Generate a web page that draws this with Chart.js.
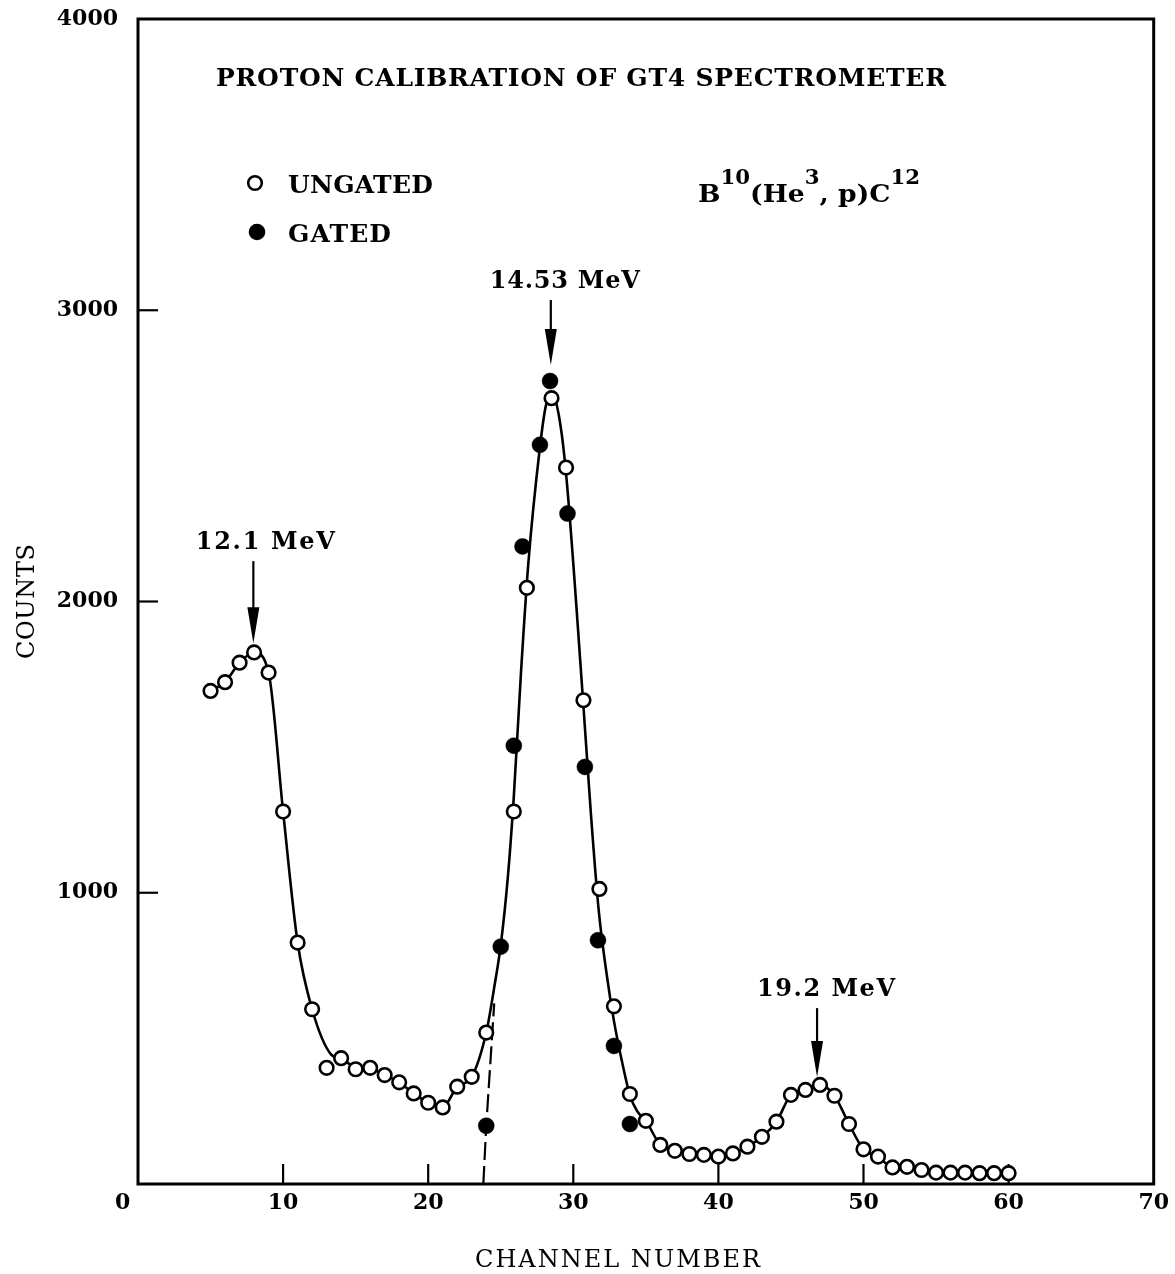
<!DOCTYPE html>
<html>
<head>
<meta charset="utf-8">
<title>Proton calibration of GT4 spectrometer</title>
<script src="https://cdn.jsdelivr.net/npm/chart.js@4.4.1/dist/chart.umd.min.js"></script>
<style>
  html, body { margin: 0; padding: 0; background: #fff; }
  #wrap { width: 1175px; height: 1274px; }
  canvas { display: block; }
</style>
</head>
<body>
<div id="wrap"><canvas id="spectrum" width="1175" height="1274"></canvas></div>
<script>
// Axis tick values
const channelTicks = [0, 10, 20, 30, 40, 50, 60, 70];
const countTicks = [0, 1000, 2000, 3000, 4000];

// Ungated spectrum (channel, counts)
const ungatedChannels = [
  5, 6, 7, 8, 9, 10, 11, 12, 13, 14, 15, 16, 17, 18, 19, 20, 21, 22, 23, 24,
  25.9, 26.8, 28.5, 29.5, 30.7, 31.8, 32.8, 33.9,
  35, 36, 37, 38, 39, 40, 41, 42, 43, 44, 45, 46, 47, 48, 49, 50,
  51, 52, 53, 54, 55, 56, 57, 58, 59, 60
];
const ungatedCounts = [
  1693, 1723, 1790, 1825, 1756, 1279, 829, 600, 399, 432, 394, 399, 374, 349, 311, 279, 263, 334, 368, 520,
  1279, 2047, 2698, 2460, 1661, 1013, 610, 309,
  217, 134, 114, 103, 100, 94, 105, 128, 162, 214, 306, 323, 340, 303, 206, 119,
  94, 57, 59, 48, 39, 39, 39, 37, 37, 37
];

// Gated spectrum (channel, counts)
const gatedChannels = [24.0, 25.0, 25.9, 26.5, 27.7, 28.4, 29.6, 30.8, 31.7, 32.8, 33.9];
const gatedCounts   = [200, 815, 1505, 2189, 2538, 2757, 2302, 1432, 837, 474, 206];

// Hand-fitted solid curve through the spectrum
const fitChannels = [
  5, 6, 7, 8, 9, 10, 11, 12, 13.3, 14.1, 15, 16, 17, 18, 19, 20, 21, 22, 23, 24,
  24.6, 25, 25.5, 25.9, 26.4, 26.9, 27.7, 28.1, 28.5, 29, 29.5, 30.7, 31.2, 31.75,
  32.3, 32.8, 33.4, 33.9, 34.4,
  35, 36, 37, 38, 39, 40, 41, 42, 43, 44, 45, 46, 47, 48, 49, 50,
  51, 52, 53, 54, 55, 56, 57, 58, 59, 60
];
const fitCounts = [
  1693, 1723, 1790, 1825, 1756, 1279, 829, 600, 445, 428, 400, 396, 374, 349, 311, 279, 265, 334, 368, 520,
  690, 820, 1060, 1330, 1760, 2130, 2530, 2670, 2715, 2640, 2440, 1640, 1280, 940,
  720, 560, 410, 305, 250,
  217, 134, 114, 103, 100, 94, 105, 128, 162, 214, 306, 323, 340, 303, 206, 119,
  94, 57, 59, 48, 39, 39, 39, 37, 37, 37
];

// Dashed extrapolation of the gated peak down to zero
const dashChannels = [23.8, 24.0, 24.55];
const dashCounts   = [0, 200, 620];

// Peak markers
const peakEnergies   = ['12.1 MeV', '14.53 MeV', '19.2 MeV'];
const peakChannels   = [7.95, 28.45, 46.8];
const peakTipCounts  = [1857, 2812, 367];

function pairs(xs, ys) { return xs.map((x, i) => ({ x: x, y: ys[i] })); }

const SERIF = '"DejaVu Serif", "Liberation Serif", serif';

// Draw text so that it spans a given width (wide typewriter-like spacing)
function spacedText(ctx, text, font, left, baseline, width) {
  ctx.save();
  ctx.font = font;
  ctx.fillStyle = '#000';
  ctx.textAlign = 'left';
  ctx.textBaseline = 'alphabetic';
  const n = Array.from(text).length;
  const w = ctx.measureText(text).width;
  const gap = n > 1 ? (width - w) / (n - 1) : 0;
  if ('letterSpacing' in ctx && gap >= 0) {
    ctx.letterSpacing = gap.toFixed(2) + 'px';
    ctx.fillText(text, left, baseline);
  } else {
    ctx.translate(left, baseline);
    ctx.scale(width / w, 1);
    ctx.fillText(text, 0, 0);
  }
  ctx.restore();
}

function openCircle(ctx, x, y, r) {
  ctx.save();
  ctx.beginPath();
  ctx.arc(x, y, r, 0, Math.PI * 2);
  ctx.fillStyle = '#fff';
  ctx.fill();
  ctx.lineWidth = 2.6;
  ctx.strokeStyle = '#000';
  ctx.stroke();
  ctx.restore();
}
function filledCircle(ctx, x, y, r) {
  ctx.save();
  ctx.beginPath();
  ctx.arc(x, y, r, 0, Math.PI * 2);
  ctx.fillStyle = '#000';
  ctx.fill();
  ctx.restore();
}

const figureDecor = {
  id: 'figureDecor',
  beforeDatasetsDraw(chart) {
    const { ctx, chartArea: a, scales } = chart;
    ctx.save();
    // frame
    ctx.strokeStyle = '#000';
    ctx.lineWidth = 3;
    ctx.strokeRect(a.left, a.top, a.right - a.left, a.bottom - a.top);
    // inward tick marks
    ctx.lineWidth = 2.2;
    scales.x.ticks.forEach(t => {
      if (t.value <= scales.x.min || t.value >= scales.x.max) return;
      const px = scales.x.getPixelForValue(t.value);
      ctx.beginPath();
      ctx.moveTo(px, a.bottom);
      ctx.lineTo(px, a.bottom - 20);
      ctx.stroke();
    });
    scales.y.ticks.forEach(t => {
      if (t.value <= scales.y.min || t.value >= scales.y.max) return;
      const py = scales.y.getPixelForValue(t.value);
      ctx.beginPath();
      ctx.moveTo(a.left, py);
      ctx.lineTo(a.left + 20, py);
      ctx.stroke();
    });
    ctx.restore();
  },
  afterDraw(chart) {
    const { ctx, scales } = chart;
    const xs = scales.x, ys = scales.y;
    ctx.save();
    ctx.fillStyle = '#000';
    ctx.strokeStyle = '#000';

    // heading
    spacedText(ctx, 'PROTON CALIBRATION OF GT4 SPECTROMETER', 'bold 25px ' + SERIF, 216, 86, 730);

    // legend
    openCircle(ctx, 255, 183, 6.8);
    spacedText(ctx, 'UNGATED', 'bold 25px ' + SERIF, 288, 193, 145);
    filledCircle(ctx, 257, 232, 8.3);
    spacedText(ctx, 'GATED', 'bold 25px ' + SERIF, 288, 242, 103);

    // reaction  B10(He3,p)C12
    const parts = [
      { t: 'B', sup: false }, { t: '10', sup: true }, { t: '(He', sup: false },
      { t: '3', sup: true }, { t: ', p)C', sup: false }, { t: '12', sup: true }
    ];
    const mainFont = 'bold 25px ' + SERIF, supFont = 'bold 20px ' + SERIF;
    let total = 0;
    parts.forEach(p => { ctx.font = p.sup ? supFont : mainFont; p.w = ctx.measureText(p.t).width; total += p.w; });
    const k = (920 - 698) / total;
    let cx = 698;
    ctx.fillStyle = '#000';
    ctx.textAlign = 'left';
    ctx.textBaseline = 'alphabetic';
    parts.forEach(p => {
      ctx.save();
      ctx.font = p.sup ? supFont : mainFont;
      ctx.translate(cx, p.sup ? 184 : 202);
      ctx.scale(k, 1);
      ctx.fillText(p.t, 0, 0);
      ctx.restore();
      cx += p.w * k;
    });

    // peak arrows and energy labels
    const shaft = [82, 65, 69];
    const labelShift = [12, 14, 9];
    const labelWidth = [139, 150, 138];
    ctx.fillStyle = '#000';
    peakEnergies.forEach((label, i) => {
      const px = xs.getPixelForValue(peakChannels[i]);
      const tip = ys.getPixelForValue(peakTipCounts[i]);
      const top = tip - shaft[i];
      ctx.lineWidth = 2.2;
      ctx.beginPath();
      ctx.moveTo(px, top);
      ctx.lineTo(px, tip - 30);
      ctx.stroke();
      ctx.beginPath();
      ctx.moveTo(px - 6, tip - 36);
      ctx.lineTo(px + 6, tip - 36);
      ctx.lineTo(px, tip);
      ctx.closePath();
      ctx.fill();
      const lc = px + labelShift[i];
      spacedText(ctx, label, 'bold 24px ' + SERIF, lc - labelWidth[i] / 2, top - 12, labelWidth[i]);
    });

    // axis titles
    spacedText(ctx, 'CHANNEL NUMBER', '24px ' + SERIF, 475, 1267, 285);
    ctx.save();
    ctx.translate(34, 602);
    ctx.rotate(-Math.PI / 2);
    spacedText(ctx, 'COUNTS', '24px ' + SERIF, -57, 0, 115);
    ctx.restore();

    ctx.restore();
  }
};

Chart.defaults.font.family = SERIF;
Chart.defaults.color = '#000';

new Chart(document.getElementById('spectrum'), {
  type: 'scatter',
  data: {
    datasets: [
      {
        label: 'UNGATED',
        data: pairs(ungatedChannels, ungatedCounts),
        pointStyle: 'circle',
        pointRadius: 6.8,
        pointBackgroundColor: '#fff',
        pointBorderColor: '#000',
        pointBorderWidth: 2.6,
        showLine: false,
        order: 0
      },
      {
        label: 'GATED',
        data: pairs(gatedChannels, gatedCounts),
        pointStyle: 'circle',
        pointRadius: 8,
        pointBackgroundColor: '#000',
        pointBorderColor: '#000',
        pointBorderWidth: 0.5,
        showLine: false,
        order: 1
      },
      {
        label: 'fit',
        data: pairs(fitChannels, fitCounts),
        showLine: true,
        pointRadius: 0,
        borderColor: '#000',
        borderWidth: 2.6,
        cubicInterpolationMode: 'monotone',
        order: 2
      },
      {
        label: 'gated extrapolation',
        data: pairs(dashChannels, dashCounts),
        showLine: true,
        pointRadius: 0,
        borderColor: '#000',
        borderWidth: 2.2,
        borderDash: [18, 6],
        tension: 0,
        order: 3
      }
    ]
  },
  options: {
    responsive: false,
    animation: false,
    devicePixelRatio: 1,
    layout: { padding: { top: 19, right: 21, left: 0, bottom: 0 } },
    plugins: {
      legend: { display: false },
      tooltip: { enabled: false },
      title: { display: false }
    },
    scales: {
      x: {
        type: 'linear',
        min: channelTicks[0],
        max: channelTicks[channelTicks.length - 1],
        afterBuildTicks: s => { s.ticks = channelTicks.map(v => ({ value: v })); },
        afterFit: s => { s.height = 90; },
        grid: { display: false, drawTicks: false },
        border: { display: false },
        ticks: {
          padding: 6,
          font: { family: SERIF, weight: 'bold', size: 22 },
          color: '#000',
          maxRotation: 0,
          callback: v => (v === 0 ? '0\u2007\u2007' : String(v))
        }
      },
      y: {
        type: 'linear',
        min: countTicks[0],
        max: countTicks[countTicks.length - 1],
        afterBuildTicks: s => { s.ticks = countTicks.map(v => ({ value: v })); },
        afterFit: s => { s.width = 138; },
        // label gap comes from an invisible outer tick so that it does not enlarge the top padding
        grid: { display: true, drawOnChartArea: false, drawTicks: true, tickLength: 20, tickColor: 'rgba(0,0,0,0)' },
        border: { display: false },
        ticks: {
          padding: 0,
          font: { family: SERIF, weight: 'bold', size: 22 },
          color: '#000',
          callback: v => (v === 0 ? '' : String(v))
        }
      }
    }
  },
  plugins: [figureDecor]
});
</script>
</body>
</html>
